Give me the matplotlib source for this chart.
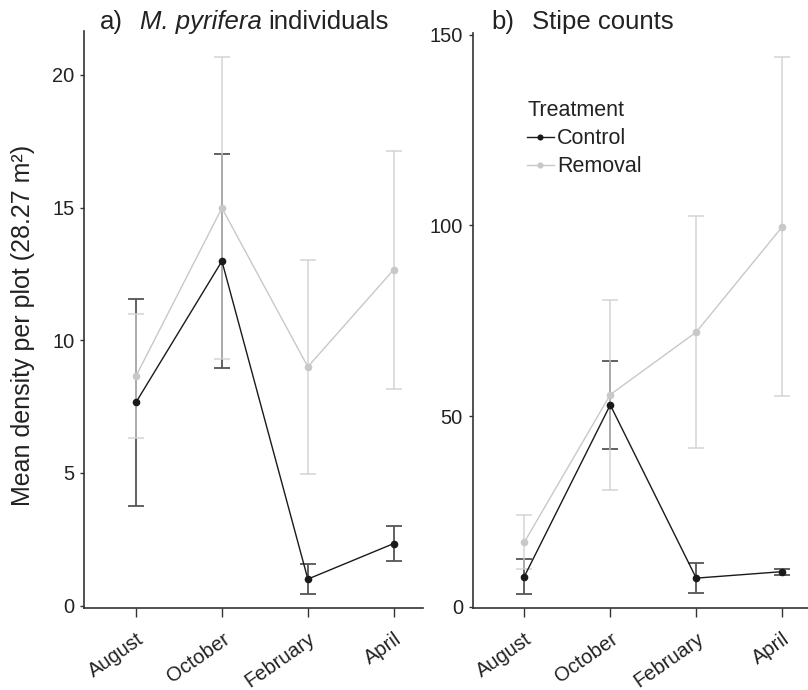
import matplotlib
matplotlib.use("Agg")
import matplotlib.pyplot as plt
import matplotlib.transforms as mtransforms

plt.rcParams['font.family'] = ['Liberation Sans', 'DejaVu Sans']

months = ["August", "October", "February", "April"]

# Panel a: M. pyrifera individuals (mean, lower, upper)
ind_control_mean = [7.66, 12.98, 1.00, 2.34]
ind_control_lo = [3.74, 8.94, 0.43, 1.67]
ind_control_hi = [11.56, 17.01, 1.57, 2.99]
ind_removal_mean = [8.65, 14.98, 9.00, 12.66]
ind_removal_lo = [6.33, 9.30, 4.95, 8.16]
ind_removal_hi = [11.00, 20.66, 13.02, 17.13]

# Panel b: stipe counts
st_control_mean = [7.9, 52.9, 7.5, 9.2]
st_control_lo = [3.3, 41.4, 3.7, 8.3]
st_control_hi = [12.5, 64.5, 11.4, 10.0]
st_removal_mean = [16.9, 55.6, 72.0, 99.6]
st_removal_lo = [9.8, 30.7, 41.6, 55.2]
st_removal_hi = [24.0, 80.5, 102.3, 144.0]

W, H = 808, 690
fig = plt.figure(figsize=(W / 100, H / 100), dpi=100)

def px_axes(l, r, b, t):
    return fig.add_axes([l / W, 1 - b / H, (r - l) / W, (b - t) / H])

ax1 = px_axes(84, 423, 607.5, 31)
ax2 = px_axes(472.7, 808, 607.5, 33)

C_LINE = "#1a1a1a"
C_EB = "#555555"
R_LINE = "#c8c8c8"
R_EB = "#cfcfcf"
TXT = "#222222"

def draw(ax, cm, clo, chi, rm, rlo, rhi):
    x = list(range(1, len(months) + 1))
    ax.errorbar(x, cm, yerr=[[m - l for m, l in zip(cm, clo)], [h - m for m, h in zip(cm, chi)]],
                fmt='none', ecolor=C_EB, elinewidth=1.3, capsize=5.5, capthick=1.3, zorder=2)
    ax.errorbar(x, rm, yerr=[[m - l for m, l in zip(rm, rlo)], [h - m for m, h in zip(rm, rhi)]],
                fmt='none', ecolor=R_EB, elinewidth=1.3, capsize=5.5, capthick=1.3, alpha=0.75, zorder=3)
    ax.plot(x, rm, color=R_LINE, lw=1.0, marker='o', ms=5.5, mec='none', zorder=4, label="Removal")
    ax.plot(x, cm, color=C_LINE, lw=1.0, marker='o', ms=5.5, mec='none', zorder=5, label="Control")
    ax.set_xticks(x)
    ax.set_xticklabels(months, rotation=35, ha='right', va='top', rotation_mode='anchor', fontsize=14.5)
    off = mtransforms.ScaledTranslation(5 / 100, 0, fig.dpi_scale_trans)
    for lab in ax.get_xticklabels():
        lab.set_transform(lab.get_transform() + off)
    for s in ['top', 'right']:
        ax.spines[s].set_visible(False)
    for s in ['left', 'bottom']:
        ax.spines[s].set_color('#333333')
        ax.spines[s].set_linewidth(1.2)
    ax.tick_params(axis='y', length=3, width=1, color='#333333', pad=4, labelsize=14.4, labelcolor=TXT)
    ax.tick_params(axis='x', length=6.5, width=1, color='#333333', pad=9, labelsize=14.5, labelcolor=TXT)
    ax.set_facecolor('none')

draw(ax1, ind_control_mean, ind_control_lo, ind_control_hi, ind_removal_mean, ind_removal_lo, ind_removal_hi)
draw(ax2, st_control_mean, st_control_lo, st_control_hi, st_removal_mean, st_removal_lo, st_removal_hi)

ax1.set_xlim(0.395, 4.34)
ax1.set_ylim(-0.07, 21.65)
ax1.set_yticks([0, 5, 10, 15, 20])
ax2.set_xlim(0.4, 4.3)
ax2.set_ylim(-0.2, 150.4)
ax2.set_yticks([0, 50, 100, 150])

# titles
fs_t = 18.5
ty = 1 - 29 / H
fig.text(100 / W, ty, "a)", fontsize=fs_t, va='baseline', ha='left', color=TXT)
fig.text(140 / W, ty, "M. pyrifera", fontsize=fs_t, style='italic', va='baseline', ha='left', color=TXT)
fig.text(268 / W, ty, "individuals", fontsize=fs_t, va='baseline', ha='left', color=TXT)
fig.text(491.7 / W, ty, "b)", fontsize=fs_t, va='baseline', ha='left', color=TXT)
fig.text(532 / W, ty, "Stipe counts", fontsize=fs_t, va='baseline', ha='left', color=TXT)

fig.text(23 / W, 1 - 325.5 / H, "Mean density per plot (28.27 m²)", fontsize=18, rotation=90,
         va='center', ha='center', color=TXT)

h, l = ax2.get_legend_handles_labels()
leg = ax2.legend(h[::-1], l[::-1], title="Treatment", frameon=False, loc='upper left',
                 bbox_to_anchor=(0.162, 0.883), borderaxespad=0, borderpad=0,
                 fontsize=15.5, title_fontsize=15.5, handlelength=1.25, handletextpad=0.15,
                 labelspacing=0.33, alignment='left', markerscale=0.8)
for t in leg.get_texts():
    t.set_color(TXT)
leg.get_title().set_color(TXT)

fig.savefig("out.png", dpi=100)
